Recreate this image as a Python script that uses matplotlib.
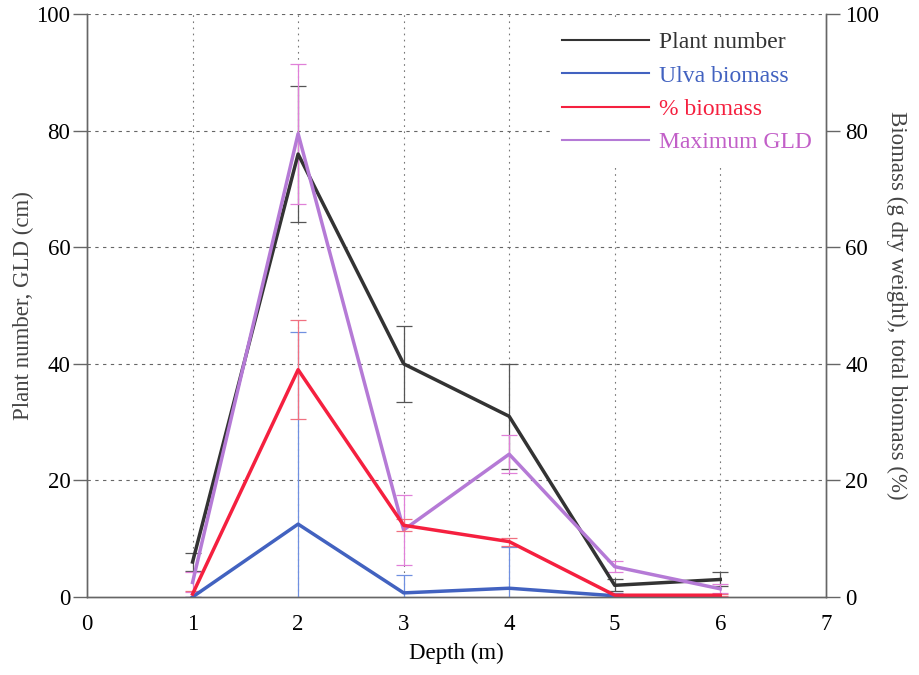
import matplotlib
matplotlib.use("Agg")
import matplotlib.pyplot as plt
from matplotlib.lines import Line2D

plt.rcParams["font.family"] = ["Liberation Serif", "DejaVu Serif"]
plt.rcParams["font.size"] = 16.5

# Data
depth = [1, 2, 3, 4, 5, 6]
plant_number = [6, 76, 40, 31, 2, 3]
plant_err = [1.5, 11.7, 6.5, 9, 1, 1.2]
max_gld = [2.5, 79.5, 11.5, 24.5, 5.2, 1.4]
gld_err = [1.7, 12, 6, 3.3, 1, 0.8]
pct_biomass = [0.5, 39, 12.3, 9.5, 0.3, 0.3]
pct_err = [0.5, 8.5, 1, 0.7, 0.2, 0.2]
ulva_biomass = [0, 12.5, 0.7, 1.5, 0.2, 0]
ulva_err = [0, 33, 3, 7, 0.5, 0]

c_black = "#333333"
c_blue = "#4262c0"
c_red = "#f5203f"
c_purple = "#b57ad6"
c_purple_txt = "#c25fc8"

fig = plt.figure(figsize=(9.2, 6.75), dpi=100)
ax = fig.add_axes([0.0946, 0.1156, 0.803, 0.8634])
ax2 = ax.twinx()

# left axis: plant number and GLD
ax.errorbar(depth, plant_number, yerr=plant_err, color=c_black, lw=2.5,
            ecolor="#555555", elinewidth=0.9, capsize=6, capthick=0.9)
ax.errorbar(depth, max_gld, yerr=gld_err, color=c_purple, lw=2.5,
            ecolor="#e080d8", elinewidth=0.9, capsize=6, capthick=0.9)

# right axis: biomass
ax2.errorbar(depth, ulva_biomass, yerr=ulva_err, color=c_blue, lw=2.5,
             ecolor="#7090e0", elinewidth=0.9, capsize=6, capthick=0.9)
ax2.errorbar(depth, pct_biomass, yerr=pct_err, color=c_red, lw=2.5,
             ecolor="#f07080", elinewidth=0.9, capsize=6, capthick=0.9)

for a in (ax, ax2):
    a.set_xlim(0, 7)
    a.set_ylim(0, 100)
    a.set_yticks(range(0, 101, 20))
    a.spines["top"].set_visible(False)
    for s in a.spines.values():
        s.set_color("#666666")
        s.set_linewidth(1.0)

ax.set_xticks(range(0, 8))
ax.tick_params(axis="x", length=0, pad=12)
ax.tick_params(axis="y", length=10, width=1, color="#666666", direction="out", pad=2)
ax2.tick_params(axis="y", length=10, width=1, color="#666666", direction="out", pad=4)

# grid: dashed horizontals, dotted verticals
for yv in range(20, 101, 20):
    ax.axhline(yv, color="#666666", lw=0.8, ls=(0, (3, 4)), zorder=0)
for xv in range(1, 7):
    ax.axvline(xv, color="#777777", lw=0.8, ls=(0, (1.5, 4)), zorder=0)

ax.set_xlabel("Depth (m)", labelpad=6)
ax.set_ylabel("Plant number, GLD (cm)", color="#444444", labelpad=2)
ax2.set_ylabel("Biomass (g dry weight), total biomass (%)", color="#444444",
               rotation=270, labelpad=20)

handles = [
    Line2D([], [], color=c_black, lw=1.5),
    Line2D([], [], color=c_blue, lw=1.5),
    Line2D([], [], color=c_red, lw=1.5),
    Line2D([], [], color=c_purple, lw=1.5),
]
labels = ["Plant number", "Ulva biomass", "% biomass", "Maximum GLD"]
leg = ax2.legend(handles, labels, loc="upper left",
                 bbox_to_anchor=(550 / 920, 1 - 20 / 675),
                 bbox_transform=fig.transFigure, frameon=True,
                 facecolor="white", edgecolor="none", framealpha=1,
                 handlelength=3.7, handletextpad=0.4, labelspacing=0.5,
                 fontsize=17, borderpad=0.5, borderaxespad=0)
leg.set_zorder(2.2)  # keep the right spine drawn above the legend box
for t, c in zip(leg.get_texts(), [c_black, c_blue, c_red, c_purple_txt]):
    t.set_color(c)

fig.savefig("out.png", dpi=100)
